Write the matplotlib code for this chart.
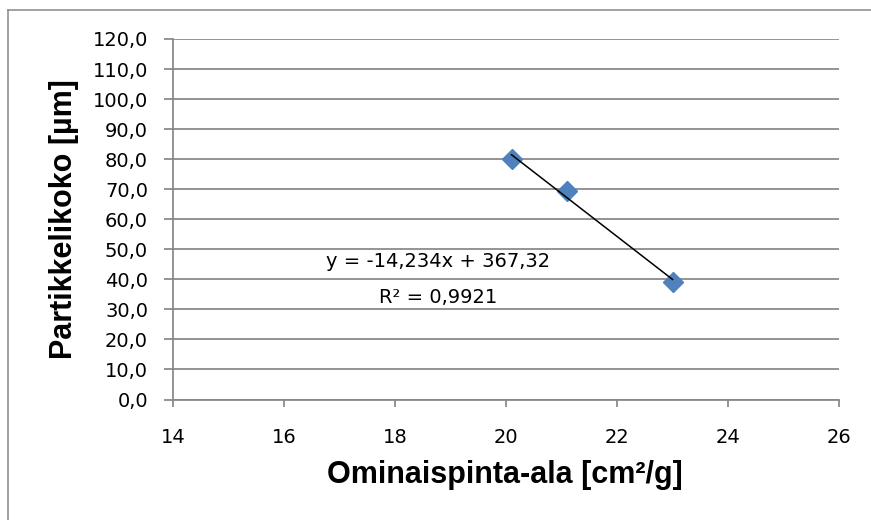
import numpy as np
import matplotlib
matplotlib.use("Agg")
import matplotlib.pyplot as plt
from matplotlib.lines import Line2D
from matplotlib.ticker import FuncFormatter

# Measured samples
surface_area = [20.1, 21.1, 23.0]      # cm²/g
particle_size = [80.0, 69.4, 39.2]     # µm

x_ticks = [14, 16, 18, 20, 22, 24, 26]
y_ticks = list(range(0, 121, 10))

equation_text = "y = -14,234x + 367,32"
r2_text = "R² = 0,9921"

x_title = "Ominaispinta-ala [cm²/g]"
y_title = "Partikkelikoko [µm]"

grid_color = "#878787"
marker_color = "#4F81BD"
tick_font = "DejaVu Sans"
title_font = "Liberation Sans"

fig = plt.figure(figsize=(8.71, 5.2), dpi=100)
ax = fig.add_axes([173 / 871, 120.5 / 520, 666 / 871, 360.5 / 520])

# Chart frame (top and left edges fall inside the canvas)
fig.add_artist(Line2D([7.5 / 871, 1.0], [1 - 9.5 / 520, 1 - 9.5 / 520],
                      transform=fig.transFigure, color=grid_color, linewidth=1.1))
fig.add_artist(Line2D([7.5 / 871, 7.5 / 871], [0.0, 1 - 9.5 / 520],
                      transform=fig.transFigure, color=grid_color, linewidth=1.1))

ax.set_xlim(x_ticks[0], x_ticks[-1])
ax.set_ylim(y_ticks[0], y_ticks[-1])
ax.set_xticks(x_ticks)
ax.set_yticks(y_ticks)
ax.yaxis.set_major_formatter(FuncFormatter(lambda v, p: f"{v:.1f}".replace(".", ",")))

ax.grid(axis="y", color=grid_color, linewidth=1.25)
ax.set_axisbelow(True)
for side in ("top", "right"):
    ax.spines[side].set_visible(False)
for side in ("left", "bottom"):
    ax.spines[side].set_color(grid_color)
    ax.spines[side].set_linewidth(1.25)

ax.tick_params(axis="both", direction="out", color=grid_color, width=1.25,
               labelsize=14)
ax.tick_params(axis="x", length=5, pad=15.5)
ax.tick_params(axis="y", length=6.5, pad=11.5)
for lbl in ax.get_xticklabels() + ax.get_yticklabels():
    lbl.set_fontfamily(tick_font)

# Data points
ax.plot(surface_area, particle_size, linestyle="none", marker="D",
        markersize=10, color=marker_color, zorder=3, clip_on=False)

# Linear trendline through the samples
slope, intercept = np.polyfit(surface_area, particle_size, 1)
xs = np.array([min(surface_area), max(surface_area)])
ax.plot(xs, slope * xs + intercept, color="black", linewidth=1.1, zorder=4)

ax.text(18.775, 44.0, equation_text, ha="center", va="baseline",
        fontsize=14, fontfamily=tick_font)
ax.text(18.775, 32.0, r2_text, ha="center", va="baseline",
        fontsize=14, fontfamily=tick_font)

ax.set_xlabel(x_title, fontsize=22, fontweight="bold",
              fontfamily=title_font, va="baseline")
ax.xaxis.set_label_coords(0.4985, -0.2315)
ax.set_ylabel(y_title, fontsize=22, fontweight="bold",
              fontfamily=title_font, va="center")
ax.yaxis.set_label_coords(-0.1637, 0.5)

fig.savefig("out.png", dpi=100)
